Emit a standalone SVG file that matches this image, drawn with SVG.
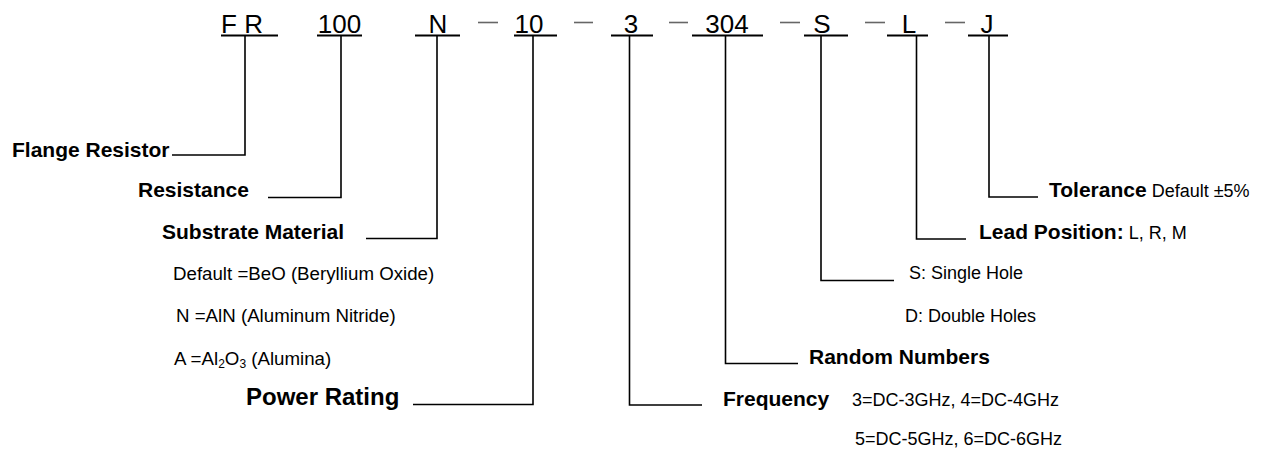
<svg xmlns="http://www.w3.org/2000/svg" width="1269" height="450" viewBox="0 0 1269 450">
<style>
text{font-family:"Liberation Sans",Arial,sans-serif;fill:#000}
.code{font-size:26px;text-anchor:middle}
.b{font-size:21px;font-weight:bold}
.r{font-size:18px}
.s{font-size:18.7px}
.ul{stroke:#000;stroke-width:2;fill:none}
.dash{stroke:#666;stroke-width:1.6}
.conn{stroke:#000;stroke-width:1.6;fill:none}
</style>
<rect width="1269" height="450" fill="#fff"/>
<g id="code">
<text class="code" x="242" y="33">F R</text>
<text class="code" x="339.5" y="33">100</text>
<text class="code" x="438" y="33">N</text>
<text class="code" x="529" y="33">10</text>
<text class="code" x="631" y="33">3</text>
<text class="code" x="727" y="33">304</text>
<text class="code" x="822" y="33">S</text>
<text class="code" x="909" y="33">L</text>
<text class="code" x="987" y="33">J</text>
<line class="ul" x1="221" y1="35.5" x2="278" y2="35.5"/>
<line class="ul" x1="317" y1="35.5" x2="362" y2="35.5"/>
<line class="ul" x1="415" y1="35.5" x2="460" y2="35.5"/>
<line class="ul" x1="514" y1="35.5" x2="557" y2="35.5"/>
<line class="ul" x1="611" y1="35.5" x2="653" y2="35.5"/>
<line class="ul" x1="692" y1="35.5" x2="763" y2="35.5"/>
<line class="ul" x1="804" y1="35.5" x2="848" y2="35.5"/>
<line class="ul" x1="887" y1="35.5" x2="928" y2="35.5"/>
<line class="ul" x1="968" y1="35.5" x2="1008" y2="35.5"/>
<line class="dash" x1="478" y1="22.5" x2="498" y2="22.5"/>
<line class="dash" x1="574" y1="22.5" x2="593" y2="22.5"/>
<line class="dash" x1="669" y1="22.5" x2="688" y2="22.5"/>
<line class="dash" x1="780" y1="22.5" x2="800" y2="22.5"/>
<line class="dash" x1="865" y1="22.5" x2="885" y2="22.5"/>
<line class="dash" x1="945" y1="22.5" x2="965" y2="22.5"/>
</g>
<g id="connectors">
<polyline class="conn" points="245,35 245,155 172,155"/>
<polyline class="conn" points="341,35 341,197.5 268,197.5"/>
<polyline class="conn" points="437,35 437,238.5 366,238.5"/>
<polyline class="conn" points="533,35 533,404.5 413,404.5"/>
<polyline class="conn" points="629.5,35 629.5,405 702,405"/>
<polyline class="conn" points="725.5,35 725.5,363.5 798,363.5"/>
<polyline class="conn" points="821,35 821,280.5 894,280.5"/>
<polyline class="conn" points="916.5,35 916.5,239 966,239"/>
<polyline class="conn" points="989,35 989,197 1038,197"/>
</g>
<g id="flange-resistor"><text class="b" x="12" y="157">Flange Resistor</text></g>
<g id="resistance"><text class="b" x="138" y="197">Resistance</text></g>
<g id="substrate">
<text class="b" x="162" y="239">Substrate Material</text>
<text class="s" x="173" y="280">Default =BeO (Beryllium Oxide)</text>
<text class="s" x="176" y="322">N =AlN (Aluminum Nitride)</text>
<text class="s" x="174" y="365">A =Al<tspan font-size="12" dy="3">2</tspan><tspan dy="-3">O</tspan><tspan font-size="12" dy="3">3</tspan><tspan dy="-3"> (Alumina)</tspan></text>
</g>
<g id="power-rating"><text class="b" style="font-size:24px" x="246" y="405">Power Rating</text></g>
<g id="frequency">
<text class="b" x="723" y="406">Frequency</text>
<text class="r" x="852" y="406">3=DC-3GHz, 4=DC-4GHz</text>
<text class="r" x="855" y="445">5=DC-5GHz, 6=DC-6GHz</text>
</g>
<g id="random-numbers"><text class="b" x="809" y="364">Random Numbers</text></g>
<g id="hole">
<text class="r" x="909" y="279">S: Single Hole</text>
<text class="r" x="905" y="322">D: Double Holes</text>
</g>
<g id="lead-position"><text class="b" x="979" y="239">Lead Position:<tspan class="r" style="font-weight:normal"> L, R, M</tspan></text></g>
<g id="tolerance"><text class="b" x="1049" y="197">Tolerance<tspan class="r" style="font-weight:normal"> Default ±5%</tspan></text></g>
</svg>
